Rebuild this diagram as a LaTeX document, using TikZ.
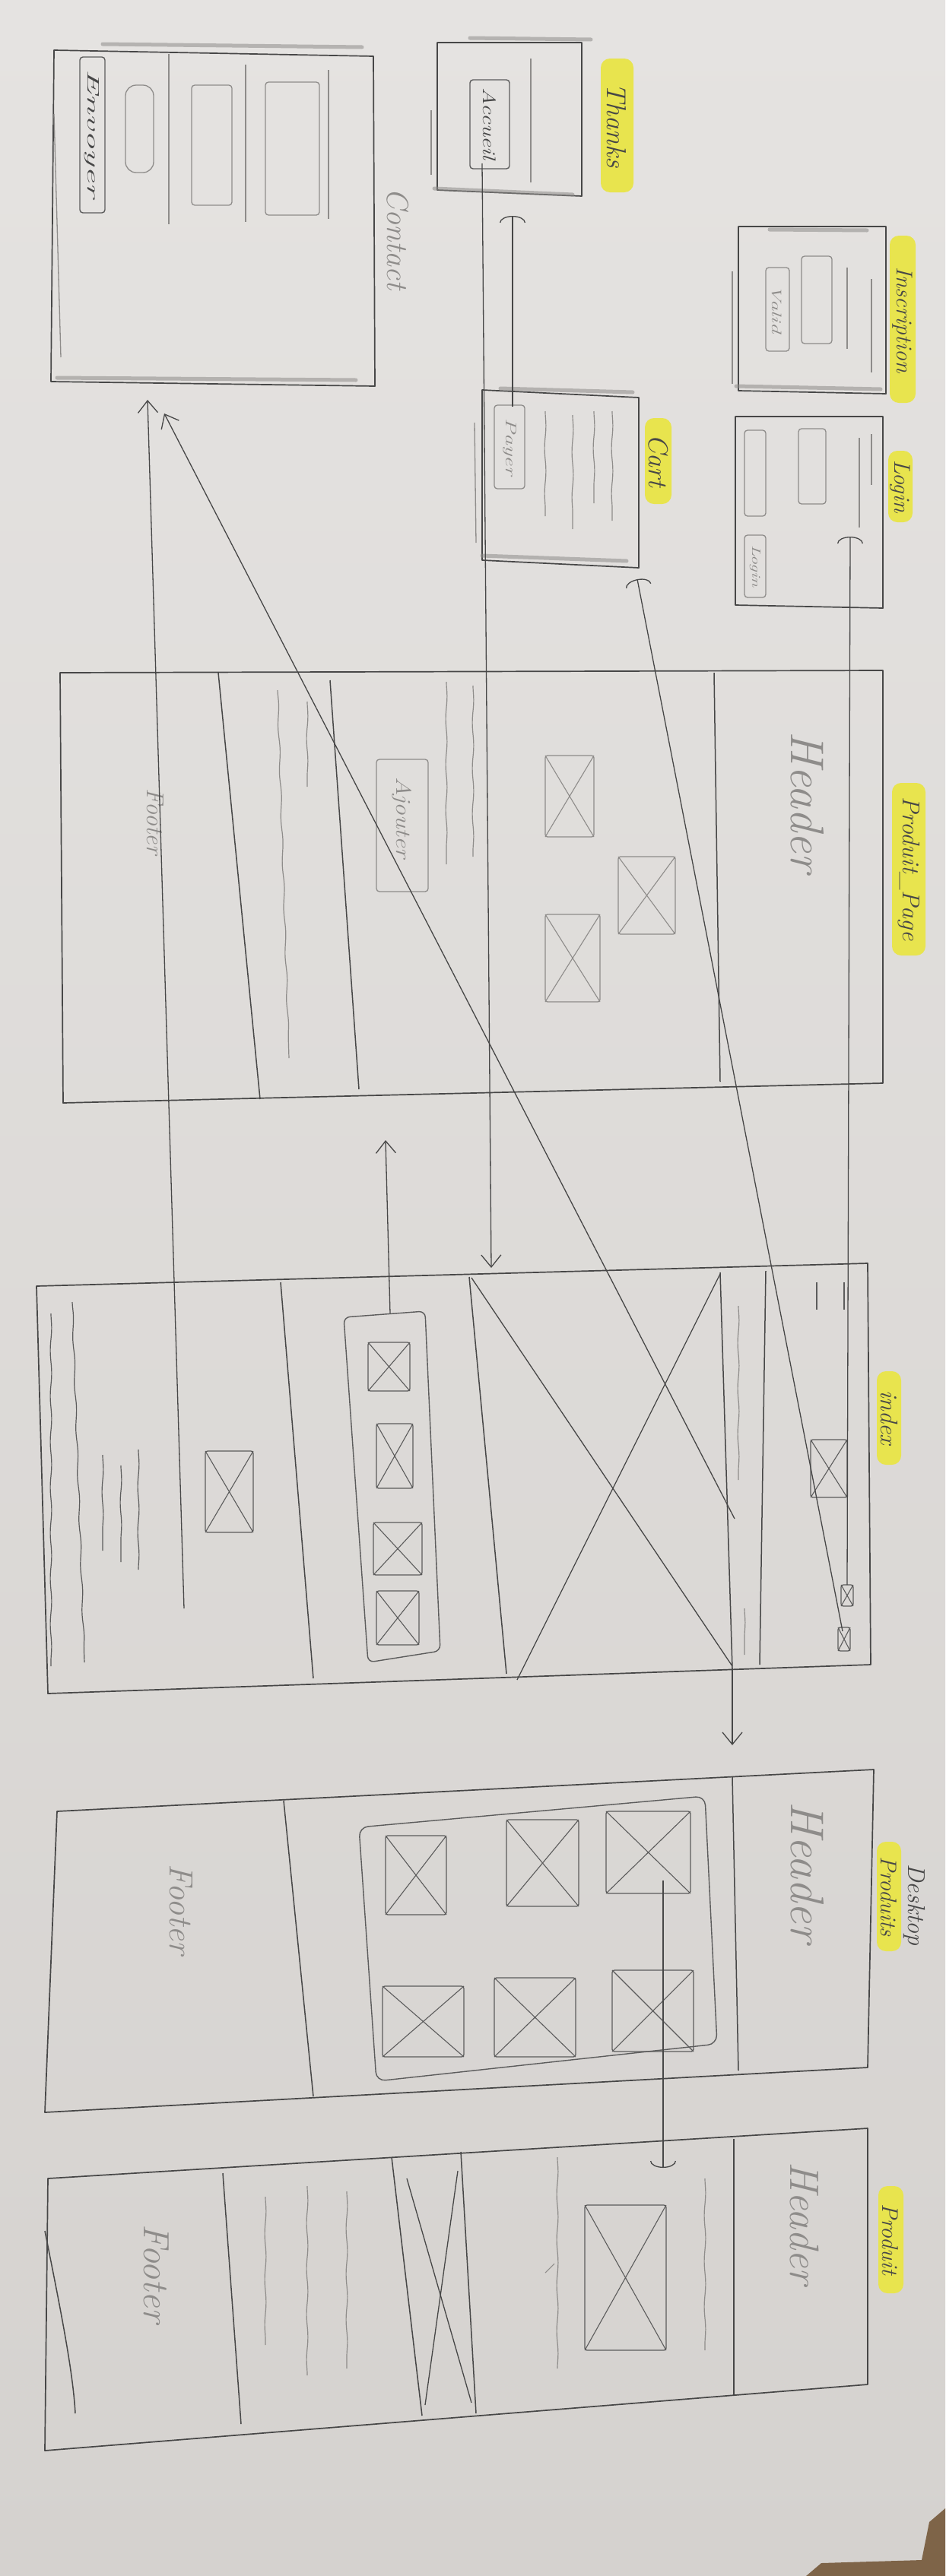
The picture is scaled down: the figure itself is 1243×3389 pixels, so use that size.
\documentclass[tikz,border=0pt]{standalone}
\usepackage{fontspec}
\usepackage{graphicx}
\usetikzlibrary{arrows.meta,decorations.pathmorphing}
\definecolor{paperhi}{HTML}{E5E3E1}
\definecolor{paperlo}{HTML}{D5D2CF}
\definecolor{pencil}{HTML}{474747}
\definecolor{graphite}{HTML}{5C5C5C}
\definecolor{softlead}{HTML}{8E8C8A}
\definecolor{marker}{HTML}{E8E44E}
\definecolor{wood}{HTML}{7E6448}
% box with a cross through it (image placeholder)
\newcommand{\crossbox}[5][graphite]{%
  \draw[draw=#1, line width=1.3pt, rounded corners=3pt] (#2,#3) rectangle (#4,#5);
  \draw[draw=#1, line width=1.1pt] (#2,#3) -- (#4,#5) (#4,#3) -- (#2,#5);}
\begin{document}
\begin{tikzpicture}[x=1pt,y=-1pt,
  frame/.style={draw=pencil, line width=1.7pt, line join=round},
  divider/.style={draw=pencil, line width=1.5pt},
  inner/.style={draw=graphite, line width=1.4pt, rounded corners=4pt},
  soft/.style={draw=softlead, line width=1.3pt, rounded corners=4pt},
  edgeband/.style={draw=softlead, line width=5pt, opacity=0.55, line cap=round},
  wave/.style={draw=softlead, line width=1.2pt, decorate,
    decoration={snake, amplitude=0.9pt, segment length=60pt}},
  darkwave/.style={wave, draw=graphite},
  link/.style={draw=pencil, line width=1.3pt},
  vtip/.style={-{Straight Barb[length=16pt,width=26pt,line width=1.3pt]}},
  ctip/.style={-{Arc Barb[length=9pt,width=34pt,line width=1.3pt]}},
  hw/.style={rotate=-90, inner sep=0pt, text=pencil},
  softhw/.style={hw, text=softlead},
  sz/.style={font=\itshape\fontsize{#1}{#1}\selectfont},
  hl/.style={fill=marker, draw=none, rounded corners=12pt}
]
% ---------- sheet ----------
\shade[top color=paperhi, bottom color=paperlo] (0,0) rectangle (1243,3389);
\fill[wood] (1243,3300) -- (1243,3389) -- (1060,3389) -- (1080,3372)
  -- (1212,3368) -- (1222,3318) -- cycle;
\useasboundingbox (0,0) rectangle (1243,3389);

% ---------- Contact ----------
\draw[frame] (71,66) -- (491,74) -- (493,508) -- (67,502) -- cycle;
\draw[edgeband] (135,58) -- (476,62);
\draw[edgeband] (75,497) -- (468,500);
\draw[soft] (71,150) -- (80,470);
\draw[inner] (105,75) rectangle (138,280);
\node[hw, sz=22] (envoyer) at (121,176) {\scalebox{2.2}[1]{Envoyer}};
\draw[soft, rounded corners=14pt] (165,112) rectangle (202,227);
\draw[soft] (252,112) rectangle (305,270);
\draw[soft] (349,108) rectangle (420,283);
\draw[softlead, line width=1.2pt] (222,71) -- (222,295) (323,85) -- (323,292) (432,92) -- (432,288);
\node[softhw, sz=40] (contactlbl) at (523,314) {Contact};

% ---------- Thanks ----------
\draw[frame] (575,56) -- (765,56) -- (765,258) -- (575,250) -- cycle;
\draw[edgeband] (618,50) -- (777,52);
\draw[edgeband] (571,248) -- (753,256);
\draw[soft] (567,145) -- (567,230);
\draw[soft] (698,77) -- (698,240);
\draw[inner] (618,105) rectangle (670,222);
\node[hw, sz=24] (accueil) at (644,163) {\scalebox{1.3}[1]{Accueil}};
\fill[hl] (790,77) rectangle (833,253);
\node[hw, sz=36] (thankslbl) at (811,165) {Thanks};

% ---------- Inscription ----------
\draw[frame] (971,298) -- (1165,298) -- (1165,518) -- (971,514) -- cycle;
\draw[edgeband] (1012,302) -- (1140,303);
\draw[edgeband] (968,508) -- (1158,512);
\draw[soft] (963,357) -- (963,505);
\draw[soft] (1007,352) rectangle (1038,462);
\node[softhw, sz=18] (valid) at (1022,407) {\scalebox{1.6}[1]{Valid}};
\draw[soft] (1054,337) rectangle (1094,452);
\draw[softlead, line width=1.2pt] (1114,352) -- (1114,459) (1146,367) -- (1146,490);
\fill[hl] (1170,310) rectangle (1204,530);
\node[hw, sz=30] (signuplbl) at (1187,421) {Inscription};

% ---------- Login ----------
\draw[frame] (967,548) -- (1161,548) -- (1161,800) -- (967,796) -- cycle;
\draw[soft] (979,566) rectangle (1007,679);
\draw[soft] (1050,564) rectangle (1086,663);
\draw[softlead, line width=1.2pt] (1130,576) -- (1130,694) (1146,571) -- (1146,638);
\draw[soft] (979,704) rectangle (1007,786);
\node[softhw, sz=16] (loginbtn) at (993,745) {\scalebox{1.5}[1]{Login}};
\fill[hl] (1168,593) rectangle (1200,687);
\node[hw, sz=30] (loginlbl) at (1184,640) {Login};

% ---------- Cart ----------
\draw[frame] (634,513) -- (840,523) -- (840,747) -- (634,737) -- cycle;
\draw[edgeband] (658,511) -- (832,516);
\draw[edgeband] (634,731) -- (824,738);
\draw[soft] (624,556) -- (626,714);
\draw[soft] (650,533) rectangle (690,643);
\node[softhw, sz=20] (payer) at (670,588) {\scalebox{1.5}[1]{Payer}};
\draw[wave] (717,541) -- (717,679);
\draw[wave] (753,546) -- (753,696);
\draw[wave] (781,541) -- (781,662);
\draw[wave] (805,541) -- (805,685);
\fill[hl] (848,550) rectangle (883,663);
\node[hw, sz=36] (cartlbl) at (866,606) {Cart};

% ---------- Produit_Page ----------
\draw[frame] (79,885) -- (1161,882) -- (1161,1425) -- (83,1451) -- cycle;
\draw[divider] (287,885) -- (342,1446);
\draw[divider] (434,895) -- (472,1433);
\draw[divider] (939,885) -- (947,1423);
\node[softhw, sz=32] (footerA) at (204,1081) {Footer};
\draw[wave] (365,908) -- (380,1392);
\draw[wave] (404,923) -- (404,1035);
\draw[soft] (495,999) rectangle (563,1173);
\node[softhw, sz=28] (ajouter) at (529,1076) {\scalebox{1.2}[1]{Ajouter}};
\draw[wave] (587,897) -- (587,1137);
\draw[wave] (622,902) -- (622,1127);
\crossbox[softlead]{717}{994}{781}{1101}
\crossbox[softlead]{813}{1127}{888}{1229}
\crossbox[softlead]{717}{1203}{789}{1318}
\node[softhw, sz=62] (headerA) at (1062,1055) {Header};
\fill[hl] (1173,1030) rectangle (1217,1257);
\node[hw, sz=32] (detaillbl) at (1195,1143) {Produit\_Page};

% ---------- index ----------
\draw[frame] (48,1692) -- (1141,1662) -- (1145,2190) -- (63,2228) -- cycle;
\draw[divider] (369,1687) -- (412,2208);
\draw[divider] (617,1680) -- (666,2202);
\draw[divider] (947,1674) -- (963,2195);
\draw[divider] (1007,1672) -- (999,2190);
\draw[link] (620,1681) -- (963,2192);
\draw[link] (680,2210) -- (947,1676);
\draw[darkwave] (67,1728) -- (67,2192);
\draw[darkwave] (95,1713) -- (111,2187);
\draw[darkwave] (135,1914) -- (135,2040);
\draw[darkwave] (159,1928) -- (159,2055);
\draw[darkwave] (182,1907) -- (182,2065);
\crossbox{270}{1909}{333}{2016}
\draw[inner, rounded corners=8pt] (452,1733) -- (559,1725) -- (579,2172) -- (484,2187) -- cycle;
\crossbox{484}{1766}{539}{1830}
\crossbox{495}{1873}{543}{1958}
\crossbox{491}{2003}{555}{2072}
\crossbox{495}{2093}{551}{2164}
\draw[wave] (971,1718) -- (971,1947);
\draw[wave] (979,2116) -- (979,2177);
\draw[graphite, line width=1.3pt] (1074,1687) -- (1074,1723) (1110,1687) -- (1110,1723);
\crossbox{1066}{1894}{1114}{1970}
\crossbox{1106}{2085}{1122}{2113}
\crossbox{1102}{2141}{1118}{2172}
\fill[hl] (1153,1804) rectangle (1185,1927);
\node[hw, sz=32] (indexlbl) at (1169,1865) {index};

% ---------- Desktop Produits ----------
\draw[frame] (75,2383) -- (1149,2328) -- (1141,2720) -- (59,2779) -- cycle;
\draw[divider] (373,2369) -- (412,2758);
\draw[divider] (963,2338) -- (971,2724);
\node[softhw, sz=44] (footerB) at (238,2512) {Footer};
\draw[inner, rounded corners=12pt] (472,2404) -- (927,2363) -- (943,2689) -- (495,2738) -- cycle;
\crossbox{797}{2383}{908}{2491}
\crossbox{805}{2592}{912}{2699}
\crossbox{666}{2394}{761}{2508}
\crossbox{650}{2602}{757}{2706}
\crossbox{507}{2415}{587}{2519}
\crossbox{503}{2613}{610}{2706}
\node[softhw, sz=62] (headerB) at (1062,2463) {Header};
\node[hw, sz=32] (desktoplbl) at (1202,2506) {Desktop};
\fill[hl] (1153,2423) rectangle (1185,2567);
\node[hw, sz=30] (produitslbl) at (1169,2495) {Produits};

% ---------- Produit ----------
\draw[frame] (63,2866) -- (1141,2800) -- (1141,3137) -- (59,3224) -- cycle;
\draw[divider] (965,2814) -- (965,3151);
\draw[divider] (606,2831) -- (626,3175);
\draw[divider] (515,2838) -- (555,3178);
\draw[divider] (293,2859) -- (317,3189);
\draw[link] (535,2866) -- (620,3161);
\draw[link] (602,2856) -- (559,3164);
\crossbox{769}{2901}{876}{3092}
\draw[wave] (927,2866) -- (927,3092);
\draw[wave] (733,2838) -- (733,3116);
\draw[softlead, line width=1.1pt] (717,2990) -- (729,2978);
\draw[wave] (349,2890) -- (349,3085);
\draw[wave] (404,2876) -- (404,3125);
\draw[wave] (456,2883) -- (456,3116);
\draw[pencil, line width=1.5pt] (59,2935) .. controls (80,3040) and (96,3120) .. (99,3175);
\node[softhw, sz=48] (footerC) at (206,2991) {Footer};
\node[softhw, sz=54] (headerC) at (1058,2925) {Header};
\fill[hl] (1155,2876) rectangle (1188,3017);
\node[hw, sz=30] (produitlbl) at (1171,2946) {Produit};

% ---------- navigation links ----------
\coordinate (contactA) at (194,526);
\coordinate (contactB) at (216,544);
\coordinate (footlink) at (242,2116);
\coordinate (navlink) at (966,1998);
\coordinate (homefrom) at (634,215);
\coordinate (hometo) at (646,1668);
\coordinate (payfrom) at (674,535);
\coordinate (payto) at (674,284);
\coordinate (stripfrom) at (513,1728);
\coordinate (stripto) at (507,1500);
\coordinate (loginicon) at (1114,2085);
\coordinate (loginto) at (1118,706);
\coordinate (carticon) at (1108,2146);
\coordinate (cartto) at (838,762);
\coordinate (navbottom) at (963,2195);
\coordinate (desktoptop) at (963,2296);
\coordinate (bigimg) at (872,2474);
\coordinate (produittop) at (872,2852);

\draw[link, vtip] (footlink) -- (contactA);
\draw[link, vtip] (navlink) -- (contactB);
\draw[link, vtip] (homefrom) -- (hometo);
\draw[link, ctip] (payfrom) -- (payto);
\draw[link, vtip] (stripfrom) -- (stripto);
\draw[link, ctip] (loginicon) -- (loginto);
\draw[link, ctip] (carticon) -- (cartto);
\draw[link, vtip] (navbottom) -- (desktoptop);
\draw[link, ctip] (bigimg) -- (produittop);
\end{tikzpicture}
\end{document}
